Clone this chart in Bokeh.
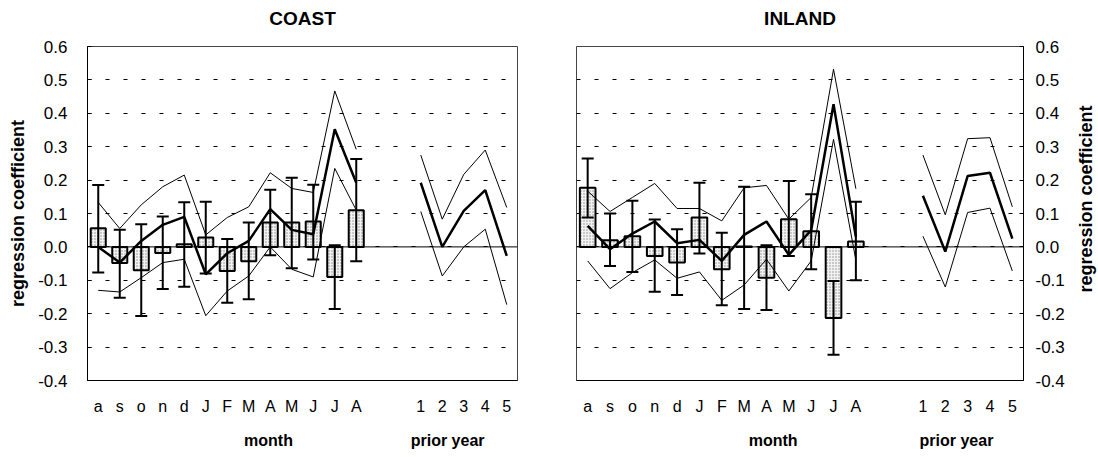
import math
from bokeh.plotting import figure
from bokeh.layouts import row, column
from bokeh.models import (Range1d, FixedTicker, NumeralTickFormatter, Span, Whisker, TeeHead,
                          ColumnDataSource)
from bokeh.core.properties import value
from bokeh.embed import file_html
from bokeh.resources import INLINE

panel_titles = ["COAST", "INLAND"]
months = ["a", "s", "o", "n", "d", "J", "F", "M", "A", "M", "J", "J", "A"]
years = ["1", "2", "3", "4", "5"]
section_labels = ["month", "prior year"]
y_label = "regression coefficient"

coast_bar = [0.056, -0.048, -0.070, -0.018, 0.008, 0.028, -0.072, -0.043, 0.073, 0.073, 0.076, -0.090, 0.110]
coast_err_hi = [0.185, 0.051, 0.068, 0.091, 0.134, 0.135, 0.024, 0.073, 0.171, 0.207, 0.186, 0.005, 0.263]
coast_err_lo = [-0.077, -0.152, -0.207, -0.126, -0.119, -0.080, -0.167, -0.157, -0.025, -0.064, -0.038, -0.186, -0.043]
coast_mid = [0.000, -0.047, 0.018, 0.066, 0.090, -0.082, -0.019, 0.018, 0.113, 0.051, 0.038, 0.352, 0.192]
coast_up = [0.133, 0.055, 0.126, 0.180, 0.215, 0.036, 0.088, 0.120, 0.222, 0.175, 0.163, 0.467, 0.292]
coast_lo = [-0.130, -0.135, -0.092, -0.047, -0.037, -0.206, -0.132, -0.087, 0.000, -0.067, -0.090, 0.235, 0.110]
coast_prior_mid = [0.192, 0.000, 0.108, 0.170, -0.027]
coast_prior_up = [0.275, 0.083, 0.217, 0.290, 0.118]
coast_prior_lo = [0.106, -0.087, 0.000, 0.053, -0.173]

inland_bar = [0.177, 0.020, 0.032, -0.027, -0.047, 0.088, -0.067, 0.001, -0.092, 0.083, 0.047, -0.213, 0.016]
inland_err_hi = [0.265, 0.100, 0.138, 0.082, 0.053, 0.192, 0.042, 0.180, 0.005, 0.197, 0.158, -0.102, 0.135]
inland_err_lo = [0.088, -0.057, -0.075, -0.134, -0.144, -0.020, -0.175, -0.186, -0.189, -0.027, -0.067, -0.323, -0.100]
inland_mid = [0.063, -0.007, 0.040, 0.076, 0.011, 0.021, -0.042, 0.036, 0.076, -0.024, 0.050, 0.427, 0.030]
inland_up = [0.167, 0.106, 0.148, 0.190, 0.115, 0.115, 0.078, 0.177, 0.184, 0.083, 0.148, 0.532, 0.174]
inland_lo = [-0.042, -0.125, -0.077, -0.039, -0.094, -0.075, -0.160, -0.114, -0.037, -0.132, -0.042, 0.322, -0.040]
inland_prior_mid = [0.153, -0.014, 0.212, 0.222, 0.025]
inland_prior_up = [0.275, 0.096, 0.324, 0.327, 0.120]
inland_prior_lo = [0.032, -0.120, 0.103, 0.116, -0.072]

y_ticks = [-0.4, -0.3, -0.2, -0.1, 0.0, 0.1, 0.2, 0.3, 0.4, 0.5, 0.6]

FONT = "Liberation Sans"
N_SLOTS = 20
month_x = [i + 0.5 for i in range(len(months))]
year_x = [15 + i + 0.5 for i in range(len(years))]

TOP_H, MID_H, BOT_H = 36, 381, 40
LEFT_KW = dict(width=537, min_border_left=87, min_border_right=20)
RIGHT_STRIP_KW = dict(width=561, min_border_left=39, min_border_right=75)
RIGHT_PANEL_KW = dict(width=531, min_border_left=39, min_border_right=45)


def blank_fig(height, xr, yr, **kw):
    f = figure(height=height, x_range=xr, y_range=yr, min_border_top=0, min_border_bottom=0,
               x_axis_location=None, y_axis_location=None,
               output_backend="svg", toolbar_location=None, **kw)
    f.outline_line_color = None
    f.xgrid.visible = False
    f.ygrid.visible = False
    f.background_fill_color = "white"
    f.border_fill_color = "white"
    return f


def make_panel(bars, ehi, elo, mid, up, lo, pmid, pup, plo, side, xr):
    kw = LEFT_KW if side == "left" else RIGHT_PANEL_KW
    p = figure(height=MID_H, min_border_top=10, min_border_bottom=37,
               x_range=xr, y_range=Range1d(-0.4, 0.6), y_axis_location=side,
               output_backend="svg", toolbar_location=None, **kw)
    p.outline_line_color = "#444444"
    p.outline_line_width = 1
    p.background_fill_color = "white"
    p.border_fill_color = "white"

    # x axis
    xa = p.xaxis[0]
    xa.ticker = FixedTicker(ticks=month_x + year_x)
    overrides = {}
    for x, m in zip(month_x, months):
        overrides[x] = m
    for x, yv in zip(year_x, years):
        overrides[x] = yv
    xa.major_label_overrides = overrides
    xa.major_tick_line_color = None
    xa.minor_tick_line_color = None
    xa.major_label_standoff = 11
    xa.major_label_text_font = FONT
    xa.major_label_text_font_size = "16px"
    xa.major_label_text_color = "black"
    xa.axis_line_color = "black"
    p.xgrid.visible = False

    # y axis
    ya = p.yaxis[0]
    ya.ticker = FixedTicker(ticks=y_ticks)
    ya.formatter = NumeralTickFormatter(format="0.0")
    ya.major_tick_in = 4
    ya.major_tick_out = 0
    ya.minor_tick_line_color = None
    ya.major_label_standoff = 20 if side == "left" else 12
    ya.major_label_text_font = FONT
    ya.major_label_text_font_size = "17px"
    ya.major_label_text_color = "black"
    if side == "left":
        ya.axis_label = y_label
        ya.axis_label_text_font = FONT
        ya.axis_label_text_font_size = "18px"
        ya.axis_label_text_font_style = "bold"
        ya.axis_label_text_color = "black"
        ya.axis_label_standoff = 7
    ya.axis_line_color = "black"
    p.ygrid.grid_line_color = "black"
    p.ygrid.grid_line_dash = "4 14"
    p.ygrid.grid_line_width = 1

    p.add_layout(Span(location=0, dimension="width", line_color="black", line_width=1))

    # bars
    p.vbar(x=month_x, top=bars, bottom=0, width=0.7,
           fill_color="#f2f2f2", line_color="black", line_width=2,
           hatch_pattern="dot", hatch_color="#8c8c8c", hatch_scale=3, hatch_weight=1)

    # lines
    p.line(month_x, up, line_color="black", line_width=1)
    p.line(month_x, lo, line_color="black", line_width=1)
    p.line(month_x, mid, line_color="black", line_width=2.5)
    p.line(year_x, pup, line_color="black", line_width=1)
    p.line(year_x, plo, line_color="black", line_width=1)
    p.line(year_x, pmid, line_color="black", line_width=2.5)

    # error bars
    src = ColumnDataSource(dict(x=month_x, hi=ehi, lo=elo))
    w = Whisker(source=src, base="x", upper="hi", lower="lo", line_width=2, line_color="black",
                upper_head=TeeHead(size=12, line_width=2, line_color="black"),
                lower_head=TeeHead(size=12, line_width=2, line_color="black"),
                level="overlay")
    p.add_layout(w)
    return p


xr1 = Range1d(0, N_SLOTS)
xr2 = Range1d(0, N_SLOTS)

# titles
t1 = blank_fig(TOP_H, xr1, Range1d(0, TOP_H), **LEFT_KW)
t2 = blank_fig(TOP_H, xr2, Range1d(0, TOP_H), **RIGHT_STRIP_KW)
for t, name in ((t1, panel_titles[0]), (t2, panel_titles[1])):
    t.text(x=[N_SLOTS / 2], y=[TOP_H - 18], text=[name], text_align="center",
           text_baseline="middle", text_font=value(FONT), text_font_size="19px",
           text_font_style="bold", text_color="black")

p1 = make_panel(coast_bar, coast_err_hi, coast_err_lo, coast_mid, coast_up, coast_lo,
                coast_prior_mid, coast_prior_up, coast_prior_lo, "left", xr1)
p2 = make_panel(inland_bar, inland_err_hi, inland_err_lo, inland_mid, inland_up, inland_lo,
                inland_prior_mid, inland_prior_up, inland_prior_lo, "right", xr2)

# right-hand axis title (reads bottom to top)
r3 = blank_fig(MID_H, Range1d(0, 30), Range1d(0, MID_H), width=30, min_border_left=0, min_border_right=0)
r3.text(x=[17], y=[MID_H - (210 - TOP_H)], text=[y_label], angle=math.pi / 2,
        text_align="center", text_baseline="middle", text_font=value(FONT),
        text_font_size="18px", text_font_style="bold", text_color="black")

# section labels under the axes
s1 = blank_fig(BOT_H, xr1, Range1d(0, BOT_H), **LEFT_KW)
s2 = blank_fig(BOT_H, xr2, Range1d(0, BOT_H), **RIGHT_STRIP_KW)
for s, lx in ((s1, [8.42, 16.75]), (s2, [8.8, 17.0])):
    s.text(x=lx, y=[17, 17], text=section_labels, text_align="center",
           text_baseline="middle", text_font=value(FONT), text_font_size="16px",
           text_font_style="bold", text_color="black")

layout = column(row(t1, t2), row(p1, p2, r3), row(s1, s2))
open("out.html", "w").write(file_html(layout, INLINE))
